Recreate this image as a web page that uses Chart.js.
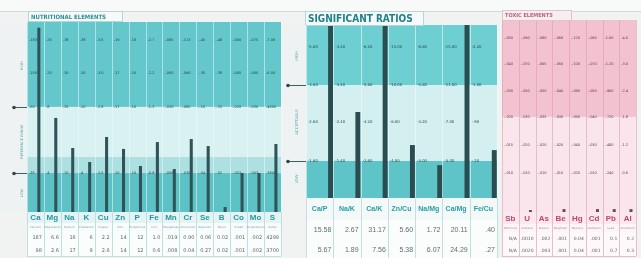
<!DOCTYPE html>
<html>
<head>
<meta charset="utf-8">
<script src="https://cdn.jsdelivr.net/npm/chart.js@4.4.0/dist/chart.umd.min.js"></script>
<style>
    body { margin: 0; width: 641px; height: 258px; overflow: hidden; position: relative; background: #f1f3f3; }
    .panel { position: absolute; top: 0; }
    .topstrip { position: absolute; left: 0; top: 0; width: 641px; height: 11px; background: #f8f9f9; border-bottom: 1px solid #d3dada; }
</style>
</head>
<body>
<div class="topstrip"></div>
<div class="panel" style="left:0"><canvas id="nutriData" width="290" height="258"></canvas></div>
<div class="panel" style="left:283px"><canvas id="ratioData" width="216" height="258"></canvas></div>
<div class="panel" style="left:499px"><canvas id="toxicData" width="142" height="258"></canvas></div>
<script>
// nutritional elements
const nutriLabels = ["Ca", "Mg", "Na", "K", "Cu", "Zn", "P", "Fe", "Mn", "Cr", "Se", "B", "Co", "Mo", "S"];
const nutriNames = ["Calcium", "Magnesium", "Sodium", "Potassium", "Copper", "Zinc", "Phosphorus", "Iron", "Manganese", "Chromium", "Selenium", "Boron", "Cobalt", "Molybdenum", "Sulfur"];
const nutriLevels = [97, 49.5, 33.7, 26.3, 39.5, 33.2, 24.2, 36.8, 22.6, 38.4, 34.7, 2.6, 20.5, 20.5, 35.8];
const nutriResult = ["187", "6.6", "16", "6", "2.2", "14", "12", "1.0", ".019", "0.90", "0.06", "0.02", ".001", ".002", "4299"];
const nutriPrevious = ["98", "2.6", "17", "9", "2.6", "14", "12", "0.6", ".008", "0.04", "0.27", "0.02", ".001", ".002", "3700"];
const nutriTicks1 = ["183", "26", "38", "38", "3.5", "19", "18", "2.7", ".085", ".113", ".45", ".48", ".060", ".075", "7.08"];
const nutriTicks2 = ["150", "20", "30", "30", "3.0", "17", "16", "2.2", ".060", ".090", ".35", ".38", ".045", ".060", "6.00"];
const nutriTicks3 = ["60", "8", "25", "10", "2.8", "17", "16", "1.2", ".030", ".080", ".10", ".15", ".020", ".030", "4600"];
const nutriTicks4 = ["35", "4", "10", "4", "1.5", "10", "10", "0.8", ".008", ".030", ".04", ".02", ".002", ".003", "3800"];

// significant ratios
const ratioLabels = ["Ca/P", "Na/K", "Ca/K", "Zn/Cu", "Na/Mg", "Ca/Mg", "Fe/Cu"];
const ratioLevels = [100, 49.7, 100, 30.6, 19, 100, 27.7];
const ratioResult = ["15.58", "2.67", "31.17", "5.60", "1.72", "20.11", ".40"];
const ratioPrevious = ["5.67", "1.89", "7.56", "5.38", "6.07", "24.29", ".27"];
const ratioTicks1 = ["5.80", "4.40", "6.20", "15.00", "6.80", "15.00", "2.20"];
const ratioTicks2 = ["3.80", "3.40", "5.80", "10.00", "5.80", "11.00", "1.00"];
const ratioTicks3 = ["2.60", "2.40", "4.20", "8.00", "4.20", "7.00", ".90"];
const ratioTicks4 = ["1.80", "1.40", "2.60", "4.00", "3.00", "3.00", ".20"];

// toxic elements
const toxicLabels = ["Sb", "U", "As", "Be", "Hg", "Cd", "Pb", "Al"];
const toxicNames = ["Antimony", "Uranium", "Arsenic", "Beryllium", "Mercury", "Cadmium", "Lead", "Aluminum"];
const toxicLevels = [0, 1, 0, 1.5, 0, 1.5, 1.5, 1.5];
const toxicResult = ["N/A", ".0010", ".002", ".001", "0.04", ".001", "0.1", "0.2"];
const toxicPrevious = ["N/A", ".0020", ".003", ".001", "0.04", ".001", "0.7", "0.3"];
const toxicTicks1 = [".050", ".090", ".080", ".060", ".120", ".090", "1.60", "4.0"];
const toxicTicks2 = [".040", ".070", ".065", ".050", ".100", ".070", "1.20", "3.0"];
const toxicTicks3 = [".030", ".050", ".050", ".040", ".080", ".050", ".960", "2.4"];
const toxicTicks4 = [".020", ".030", ".035", ".030", ".060", ".040", ".720", "1.8"];
const toxicTicks5 = [".015", ".020", ".020", ".020", ".040", ".030", ".480", "1.2"];
const toxicTicks6 = [".010", ".010", ".010", ".010", ".020", ".010", ".240", "0.6"];


// draws bands, column lines, tick texts, side labels, title and the table
const panelPlugin = {
    id: 'panel',
    beforeDatasetsDraw: (chart, args, o) => {
        const { ctx, chartArea: a, scales: { x, y } } = chart;
        const n = chart.data.labels.length;
        const w = (a.right - a.left) / n;
        ctx.save();
        o.bands.forEach(b => {
            const top = y.getPixelForValue(b.to);
            const bot = y.getPixelForValue(b.from);
            ctx.fillStyle = b.color;
            ctx.fillRect(a.left, top, a.right - a.left, bot - top);
        });
        ctx.strokeStyle = o.colLine;
        ctx.lineWidth = 1;
        for (let i = 0; i <= n; i++) {
            const px = Math.round(a.left + i * w) + 0.5;
            ctx.beginPath();
            ctx.moveTo(px, a.top);
            ctx.lineTo(px, a.bottom);
            ctx.stroke();
        }
        ctx.fillStyle = o.tickColor;
        ctx.font = o.tickFont;
        ctx.textBaseline = 'middle';
        ctx.textAlign = 'left';
        o.ticks.forEach(t => {
            const py = y.getPixelForValue(t.value);
            t.texts.forEach((s, i) => {
                const cx = x.getPixelForValue(i);
                ctx.fillText('-' + s, cx - w / 2 + 2, py);
            });
        });
        ctx.restore();
    },
    afterDraw: (chart, args, o) => {
        const { ctx, chartArea: a, scales: { x, y } } = chart;
        const n = chart.data.labels.length;
        const w = (a.right - a.left) / n;
        ctx.save();

        // title tab
        const t = o.title;
        ctx.fillStyle = t.bg;
        ctx.fillRect(t.x, t.y, t.w, t.h);
        ctx.strokeStyle = t.border;
        ctx.lineWidth = 1;
        ctx.strokeRect(t.x + 0.5, t.y + 0.5, t.w - 1, t.h);
        ctx.fillStyle = t.color;
        ctx.font = t.font;
        ctx.textBaseline = 'middle';
        ctx.textAlign = 'left';
        ctx.fillText(t.text, t.x + 3, t.y + t.h / 2 + 1);

        // side markers and rotated labels
        if (o.side) {
            ctx.fillStyle = o.side.bg;
            ctx.fillRect(o.side.left, a.top, a.left - o.side.left, a.bottom - a.top);
            o.side.markers.forEach(v => {
                const py = Math.round(y.getPixelForValue(v)) + 0.5;
                ctx.strokeStyle = '#3d5f62';
                ctx.beginPath();
                ctx.moveTo(o.side.dot, py);
                ctx.lineTo(a.left, py);
                ctx.stroke();
                ctx.fillStyle = '#2b4547';
                ctx.beginPath();
                ctx.arc(o.side.dot, py, 1.8, 0, Math.PI * 2);
                ctx.fill();
            });
            ctx.fillStyle = o.side.color;
            ctx.font = o.side.font;
            ctx.textAlign = 'center';
            o.side.labels.forEach(l => {
                ctx.save();
                ctx.translate(o.side.text, y.getPixelForValue(l.value));
                ctx.rotate(-Math.PI / 2);
                ctx.fillText(l.text, 0, 0);
                ctx.restore();
            });
        }

        // table under the plot
        let top = a.bottom;
        o.rows.forEach(r => {
            ctx.fillStyle = r.bg;
            ctx.fillRect(a.left, top, a.right - a.left, r.h);
            ctx.strokeStyle = o.tableLine;
            ctx.beginPath();
            ctx.moveTo(a.left, Math.round(top + r.h) + 0.5);
            ctx.lineTo(a.right, Math.round(top + r.h) + 0.5);
            ctx.stroke();
            for (let i = 0; i <= n; i++) {
                const px = Math.round(a.left + i * w) + 0.5;
                ctx.beginPath();
                ctx.moveTo(px, top);
                ctx.lineTo(px, top + r.h);
                ctx.stroke();
            }
            ctx.fillStyle = r.color;
            ctx.font = r.font;
            ctx.textBaseline = 'middle';
            ctx.textAlign = r.align;
            r.texts.forEach((s, i) => {
                const cx = x.getPixelForValue(i);
                const tx = r.align === 'right' ? cx + w / 2 - 2 : cx;
                ctx.fillText(s, tx, top + r.h / 2 + 0.5);
            });
            top += r.h;
        });
        ctx.restore();
    }
};

function panelChart(elm, labels, data, spacers, barOpts, panel, pad) {
    const datasets = [];
    for (let i = 0; i < spacers; i++) {
        datasets.push({ data: [] });
    }
    datasets.push(Object.assign({ data: data }, barOpts));
    return new Chart(document.getElementById(elm), {
        type: 'bar',
        data: { labels: labels, datasets: datasets },
        options: {
            responsive: false,
            animation: false,
            layout: { padding: pad },
            plugins: {
                legend: { display: false },
                tooltip: { enabled: false },
                panel: panel
            },
            scales: {
                x: { display: false },
                y: { display: false, min: 0, max: 100 }
            }
        },
        plugins: [panelPlugin]
    });
}


const nutriChart = panelChart('nutriData', nutriLabels, nutriLevels, 1, {
    backgroundColor: '#2f5357',
    categoryPercentage: 0.8,
    barPercentage: 0.45
}, {
    bands: [
        { from: 55.3, to: 100, color: '#63c7cb' },
        { from: 28.9, to: 55.3, color: '#d9f1f1' },
        { from: 20.5, to: 28.9, color: '#ace0e1' },
        { from: 0, to: 20.5, color: '#5dc2c5' }
    ],
    colLine: 'rgba(235,250,250,0.55)',
    tickColor: '#23474a',
    tickFont: '3.5px "DejaVu Sans"',
    ticks: [
        { value: 90.5, texts: nutriTicks1 },
        { value: 73.2, texts: nutriTicks2 },
        { value: 55.3, texts: nutriTicks3 },
        { value: 20.5, texts: nutriTicks4 }
    ],
    title: { text: 'NUTRITIONAL ELEMENTS', x: 28, y: 11, w: 95, h: 10, bg: '#f7fafa', border: '#b9d6d7', color: '#2a8e95', font: 'bold 6px "DejaVu Sans Condensed"' },
    side: {
        left: 0, dot: 14, text: 22, bg: '#eff2f2', color: '#5aa9ad', font: '3.5px "DejaVu Sans"',
        markers: [55.3, 20.5],
        labels: [{ text: 'HIGH', value: 77 }, { text: 'REFERENCE RANGE', value: 37 }, { text: 'LOW', value: 10 }]
    },
    tableLine: '#bfe0e1',
    rows: [
        { h: 11, bg: '#e4f3f3', color: '#2a97a0', font: 'bold 8px "Liberation Sans"', align: 'center', texts: nutriLabels },
        { h: 8, bg: '#f7fbfb', color: '#8aa0a2', font: '2.8px "DejaVu Sans"', align: 'center', texts: nutriNames },
        { h: 13, bg: '#fbfdfd', color: '#556b6d', font: '5px "DejaVu Sans"', align: 'right', texts: nutriResult },
        { h: 12, bg: '#fbfdfd', color: '#556b6d', font: '5px "DejaVu Sans"', align: 'right', texts: nutriPrevious }
    ]
}, { left: 27, top: 22, right: 9, bottom: 46 });


const ratioChart = panelChart('ratioData', ratioLabels, ratioLevels, 4, {
    backgroundColor: '#2a4d51',
    categoryPercentage: 1,
    barPercentage: 0.9
}, {
    bands: [
        { from: 65.3, to: 100, color: '#6dcfd2' },
        { from: 21.4, to: 65.3, color: '#d4eff0' },
        { from: 0, to: 21.4, color: '#5ec4c7' }
    ],
    colLine: 'rgba(240,252,252,0.6)',
    tickColor: '#23474a',
    tickFont: '3.8px "DejaVu Sans"',
    ticks: [
        { value: 87.3, texts: ratioTicks1 },
        { value: 65.3, texts: ratioTicks2 },
        { value: 43.9, texts: ratioTicks3 },
        { value: 21.4, texts: ratioTicks4 }
    ],
    title: { text: 'SIGNIFICANT RATIOS', x: 22, y: 11, w: 119, h: 14, bg: '#f5f9f9', border: '#b9d6d7', color: '#1f8189', font: 'bold 10px "DejaVu Sans Condensed"' },
    side: {
        left: 0, dot: 5, text: 14, bg: '#eff2f2', color: '#5aa9ad', font: '4px "DejaVu Sans"',
        markers: [65.3, 21.4],
        labels: [{ text: 'HIGH', value: 82 }, { text: 'ACCEPTABLE', value: 43.9 }, { text: 'LOW', value: 11 }]
    },
    tableLine: '#c3dfe0',
    rows: [
        { h: 22, bg: '#f3f8f8', color: '#2a9ea4', font: 'bold 7px "Liberation Sans"', align: 'center', texts: ratioLabels },
        { h: 20, bg: '#fbfcfc', color: '#5f6f70', font: '7px "Liberation Sans"', align: 'right', texts: ratioResult },
        { h: 20, bg: '#fbfcfc', color: '#5f6f70', font: '7px "Liberation Sans"', align: 'right', texts: ratioPrevious }
    ]
}, { left: 23, top: 25, right: 2, bottom: 60 });


const toxicChart = panelChart('toxicData', toxicLabels, toxicLevels, 1, {
    backgroundColor: '#6b4b55',
    categoryPercentage: 0.8,
    barPercentage: 0.45
}, {
    bands: [
        { from: 49.5, to: 100, color: '#f2c2d0' },
        { from: 0, to: 49.5, color: '#f9e5eb' }
    ],
    colLine: 'rgba(214,150,170,0.5)',
    tickColor: '#5a3a44',
    tickFont: '3.5px "DejaVu Sans"',
    ticks: [
        { value: 90.6, texts: toxicTicks1 },
        { value: 77.1, texts: toxicTicks2 },
        { value: 63, texts: toxicTicks3 },
        { value: 49.5, texts: toxicTicks4 },
        { value: 34.9, texts: toxicTicks5 },
        { value: 20.3, texts: toxicTicks6 }
    ],
    title: { text: 'TOXIC ELEMENTS', x: 3, y: 10, w: 70, h: 10, bg: '#f6eef1', border: '#e0c3cc', color: '#c0607c', font: 'bold 5.5px "DejaVu Sans Condensed"' },
    tableLine: '#e6bfcb',
    rows: [
        { h: 12, bg: '#fae8ee', color: '#c4456b', font: 'bold 8px "Liberation Sans"', align: 'center', texts: toxicLabels },
        { h: 8, bg: '#fcf4f7', color: '#a08a90', font: '2.8px "DejaVu Sans"', align: 'center', texts: toxicNames },
        { h: 12, bg: '#fdf9fa', color: '#6d6064', font: '4.5px "DejaVu Sans"', align: 'right', texts: toxicResult },
        { h: 12, bg: '#fdf9fa', color: '#6d6064', font: '4.5px "DejaVu Sans"', align: 'right', texts: toxicPrevious }
    ]
}, { left: 3, top: 20, right: 5, bottom: 46 });
</script>
</body>
</html>
